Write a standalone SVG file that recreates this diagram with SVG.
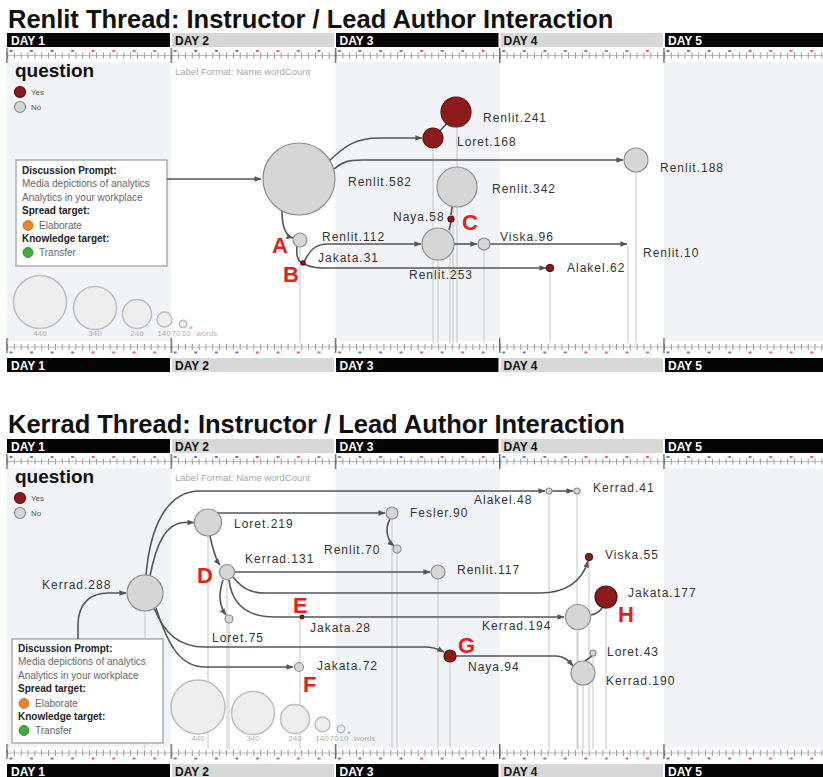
<svg xmlns="http://www.w3.org/2000/svg" width="823" height="777" viewBox="0 0 823 777">
<style>
text{font-family:"Liberation Sans",Arial,sans-serif}
.title{font-size:25.5px;font-weight:bold;fill:#111}
.day{font-size:12px;font-weight:bold}
.dw{fill:#fff}
.dk{fill:#111}
.blk{fill:#050505}
.gry{fill:#d8d8d8}
.shade{fill:#f1f3f6}
.lbl{font-size:12px;letter-spacing:1px;fill:#333}
.let{font-size:22px;font-weight:bold;fill:#e3211c}
.g{fill:#d6d6d6;stroke:#8c8c8c;stroke-width:1.2}
.r{fill:#8c1a1a;stroke:#5a0e0e;stroke-width:1.2}
.c{fill:none;stroke:#555;stroke-width:1.6}
.ca{marker-end:url(#ah)}
.v{fill:none;stroke:#c6c6c6;stroke-width:1}
.q{font-size:19px;font-weight:bold;fill:#111}
.yn{font-size:8px;fill:#555}
.fmt{font-size:9.5px;fill:#a8a8a8}
.bx{fill:#fff;stroke:#9a9a9a;stroke-width:1.2}
.bh{font-size:10px;font-weight:bold;fill:#222}
.bt{font-size:10px;fill:#666}
.sz{fill:#eeeeee;stroke:#bdbdbd;stroke-width:1.5}
.szt{font-size:8px;fill:#b0b0b0;text-anchor:middle}
.szw{font-size:8px;fill:#b0b0b0}
</style>
<defs>
<marker id="ah" viewBox="0 0 8 8" refX="7.5" refY="4" markerWidth="7" markerHeight="7" markerUnits="userSpaceOnUse" orient="auto"><path d="M0,0.8 L8,4 L0,7.2 z" fill="#555"/></marker>
<pattern id="pTick" patternUnits="userSpaceOnUse" x="7" y="0" width="6.84375" height="20"><rect x="0" y="0" width="0.9" height="20" fill="#8a8a8a"/></pattern>
<pattern id="pCap" patternUnits="userSpaceOnUse" x="7" y="0" width="164.25" height="20">
<rect x="2.5" y="0" width="3" height="20" fill="#6a78c0"/>
<rect x="23" y="0" width="3" height="20" fill="#6a78c0"/>
<rect x="43.6" y="0" width="3" height="20" fill="#6a78c0"/>
<rect x="64.1" y="0" width="3" height="20" fill="#6a78c0"/>
<rect x="84.6" y="0" width="3" height="20" fill="#e06464"/>
<rect x="105.2" y="0" width="3" height="20" fill="#e06464"/>
<rect x="125.7" y="0" width="3" height="20" fill="#e06464"/>
<rect x="146.2" y="0" width="3" height="20" fill="#e06464"/>
</pattern>
<pattern id="pMaj" patternUnits="userSpaceOnUse" x="6.3" y="0" width="164.25" height="20"><rect x="0" y="0" width="1.4" height="20" fill="#666"/></pattern>
<g id="panel">
<rect class="shade" x="7" y="62" width="164.25" height="279"/>
<rect class="shade" x="335.5" y="62" width="164.25" height="279"/>
<rect class="shade" x="664" y="62" width="159" height="279"/>
<rect class="blk" x="7" y="33" width="163" height="14"/>
<rect class="gry" x="172" y="33" width="162" height="14"/>
<rect class="blk" x="336" y="33" width="162.5" height="14"/>
<rect class="gry" x="500.5" y="33" width="162.5" height="14"/>
<rect class="blk" x="665" y="33" width="158" height="14"/>
<text class="day dw" x="11" y="45">DAY 1</text>
<text class="day dk" x="175" y="45">DAY 2</text>
<text class="day dw" x="339.5" y="45">DAY 3</text>
<text class="day dk" x="503.5" y="45">DAY 4</text>
<text class="day dw" x="668" y="45">DAY 5</text>
<rect x="7" y="50" width="816" height="2" fill="url(#pCap)"/>
<rect x="7" y="52.5" width="816" height="6" fill="url(#pTick)"/>
<line x1="7" y1="55.5" x2="823" y2="55.5" stroke="#aaa" stroke-width="0.8"/>
<rect x="6" y="48" width="817" height="15" fill="url(#pMaj)"/>
<rect x="7" y="344" width="816" height="6" fill="url(#pTick)"/>
<line x1="7" y1="347" x2="823" y2="347" stroke="#aaa" stroke-width="0.8"/>
<rect x="7" y="351.5" width="816" height="2" fill="url(#pCap)"/>
<rect x="6" y="338" width="817" height="15" fill="url(#pMaj)"/>
<rect class="blk" x="7" y="358" width="163" height="14"/>
<rect class="gry" x="172" y="358" width="162" height="14"/>
<rect class="blk" x="336" y="358" width="162.5" height="14"/>
<rect class="gry" x="500.5" y="358" width="162.5" height="14"/>
<rect class="blk" x="665" y="358" width="158" height="14"/>
<text class="day dw" x="11" y="370">DAY 1</text>
<text class="day dk" x="175" y="370">DAY 2</text>
<text class="day dw" x="339.5" y="370">DAY 3</text>
<text class="day dk" x="503.5" y="370">DAY 4</text>
<text class="day dw" x="668" y="370">DAY 5</text>
<text class="q" x="15" y="77">question</text>
<circle class="r" cx="20" cy="92" r="5.5"/>
<text class="yn" x="31" y="95">Yes</text>
<circle class="g" cx="20" cy="107" r="5.5"/>
<text class="yn" x="31" y="110">No</text>
<text class="fmt" x="175" y="75">Label Format: Name wordCount</text>
</g>
</defs>

<use href="#panel"/>
<use href="#panel" y="406"/>

<text class="title" x="8" y="28">Renlit Thread: Instructor / Lead Author Interaction</text>
<text class="title" x="8" y="433">Kerrad Thread: Instructor / Lead Author Interaction</text>

<g id="droplines">
<path class="v" d="M300,247V343 M433,149V343 M438,260V343 M450,222V343 M453,207V343 M457,127V343 M484,250V343 M550,272V343 M628,246V343 M636,172V343"/>
<path class="v" d="M145,611V749 M208,536V749 M227,580V749 M229,623V749 M300,617V749 M392,519V749 M397,553V749 M438,579V749 M450,662V749 M549,494V749 M577,494V749 M578,630V749 M583,685V749 M589,560V749 M593,656V749 M606,608V749"/>
</g>

<g id="legend-top">
<circle class="sz" cx="40" cy="302" r="26.5"/>
<circle class="sz" cx="95" cy="308" r="21.5"/>
<circle class="sz" cx="137" cy="314" r="14.5"/>
<circle class="sz" cx="164.5" cy="319.5" r="7.5"/>
<circle class="sz" cx="183" cy="324" r="3.8"/>
<circle class="sz" cx="191" cy="327.5" r="0.8"/>
<text class="szt" x="40" y="336">440</text>
<text class="szt" x="95" y="336">340</text>
<text class="szt" x="137" y="336">240</text>
<text class="szt" x="164" y="336">140</text>
<text class="szt" x="176" y="336">70</text>
<text class="szt" x="186" y="336">10</text>
<text class="szw" x="196" y="336">words</text>
</g>
<g id="legend-bottom">
<circle class="sz" cx="198" cy="707" r="27"/>
<circle class="sz" cx="253" cy="713" r="21.5"/>
<circle class="sz" cx="295" cy="719" r="14.5"/>
<circle class="sz" cx="322.5" cy="724.5" r="7.5"/>
<circle class="sz" cx="341" cy="729" r="3.8"/>
<circle class="sz" cx="349" cy="732.5" r="0.8"/>
<text class="szt" x="198" y="741">440</text>
<text class="szt" x="253" y="741">340</text>
<text class="szt" x="295" y="741">240</text>
<text class="szt" x="322" y="741">140</text>
<text class="szt" x="334" y="741">70</text>
<text class="szt" x="344" y="741">10</text>
<text class="szw" x="354" y="741">words</text>
</g>

<g id="prompt-top">
<rect class="bx" x="16" y="160" width="151" height="106"/>
<text class="bh" x="22" y="174">Discussion Prompt:</text>
<text class="bt" x="22" y="187">Media depictions of analytics</text>
<text class="bt" x="22" y="201">Analytics in your workplace</text>
<text class="bh" x="22" y="214">Spread target:</text>
<circle cx="28" cy="225.5" r="5" fill="#e8852a" stroke="#b8651a" stroke-width="0.8"/>
<text class="bt" x="39" y="229">Elaborate</text>
<text class="bh" x="22" y="242">Knowledge target:</text>
<circle cx="28" cy="252.5" r="5" fill="#3fae3f" stroke="#2a7a2a" stroke-width="0.8"/>
<text class="bt" x="39" y="256">Transfer</text>
</g>
<g id="prompt-bottom">
<rect class="bx" x="12" y="639" width="151" height="104"/>
<text class="bh" x="18" y="652">Discussion Prompt:</text>
<text class="bt" x="18" y="665">Media depictions of analytics</text>
<text class="bt" x="18" y="679">Analytics in your workplace</text>
<text class="bh" x="18" y="692">Spread target:</text>
<circle cx="24" cy="703.5" r="5" fill="#e8852a" stroke="#b8651a" stroke-width="0.8"/>
<text class="bt" x="35" y="707">Elaborate</text>
<text class="bh" x="18" y="720">Knowledge target:</text>
<circle cx="24" cy="730.5" r="5" fill="#3fae3f" stroke="#2a7a2a" stroke-width="0.8"/>
<text class="bt" x="35" y="734">Transfer</text>
</g>

<g id="connectors">
<path class="c ca" d="M167,179 L261,179"/>
<path class="c ca" d="M329,161 C345,146 355,138 380,138 L422,138"/>
<path class="c" d="M440,131 L447,123"/>
<path class="c ca" d="M334,169 C342,162 348,160 362,160 L623,160"/>
<path class="c" d="M452,207 L451,215"/>
<path class="c" d="M451,222 L449,230"/>
<path class="c ca" d="M282,211 C282,228 286,236 293,238"/>
<path class="c" d="M297,246 C296,255 298,261 301,262"/>
<path class="c ca" d="M304,262 C310,250 315,244 328,244 L421,244"/>
<path class="c ca" d="M304,264 C312,268 318,268 330,268 L546,268"/>
<path class="c ca" d="M454,244 L477,244"/>
<path class="c ca" d="M490,244 L627,244"/>

<path class="c ca" d="M78,639 L78,625 C78,602 92,593 108,593 L126,593"/>
<path class="c ca" d="M150,576 C156,545 165,523 185,522.5 L194,522.5"/>
<path class="c ca" d="M146,575 C150,530 165,491 200,491 L545,491"/>
<path class="c ca" d="M552,491 L573,491"/>
<path class="c ca" d="M217,513 L385,513"/>
<path class="c ca" d="M390,519 C384,530 388,541 394,546"/>
<path class="c ca" d="M210,536 C213,550 216,560 220,565"/>
<path class="c ca" d="M234,572 L430,572"/>
<path class="c ca" d="M233,577 C242,588 250,593 265,593 L540,593 C565,593 582,582 588,561"/>
<path class="c ca" d="M229,580 C232,605 248,617 275,617 L564,617"/>
<path class="c" d="M591,615 C597,614 600,611 602,608"/>
<path class="c ca" d="M223,580 C218,595 220,607 226,615"/>
<path class="c ca" d="M154,608 C165,635 180,647 205,647 L425,647 C435,647 440,650 444,652"/>
<path class="c ca" d="M456,656 L556,656 C564,656 568,660 573,666"/>
<path class="c" d="M585,661 L592,656"/>
<path class="c ca" d="M156,608 C168,645 180,667 205,667 L293,667"/>
</g>

<g id="n-renlit582"><circle class="g" cx="299" cy="179" r="36"/><text class="lbl" x="348" y="186">Renlit.582</text></g>
<g id="n-loret168"><circle class="r" cx="433" cy="138" r="10"/><text class="lbl" x="457" y="146">Loret.168</text></g>
<g id="n-renlit241"><circle class="r" cx="456" cy="112" r="15"/><text class="lbl" x="483" y="122">Renlit.241</text></g>
<g id="n-renlit188"><circle class="g" cx="636" cy="160" r="12"/><text class="lbl" x="660" y="172">Renlit.188</text></g>
<g id="n-renlit342"><circle class="g" cx="457" cy="187" r="20"/><text class="lbl" x="492" y="193">Renlit.342</text></g>
<g id="n-naya58"><circle class="r" cx="451" cy="219" r="3"/><text class="lbl" x="393" y="221">Naya.58</text></g>
<g id="n-renlit253"><circle class="g" cx="438" cy="244" r="16"/><text class="lbl" x="409" y="279">Renlit.253</text></g>
<g id="n-renlit112"><circle class="g" cx="300" cy="240" r="7"/><text class="lbl" x="322" y="241">Renlit.112</text></g>
<g id="n-jakata31"><circle class="r" cx="303" cy="263" r="2.2"/><text class="lbl" x="318" y="262">Jakata.31</text></g>
<g id="n-viska96"><circle class="g" cx="484" cy="244" r="6"/><text class="lbl" x="500" y="241">Viska.96</text></g>
<g id="n-renlit10"><text class="lbl" x="643" y="257">Renlit.10</text></g>
<g id="n-alakel62"><circle class="r" cx="550" cy="268" r="3.5"/><text class="lbl" x="567" y="272">Alakel.62</text></g>

<g id="n-kerrad288"><circle class="g" cx="145" cy="593" r="18"/><text class="lbl" x="42" y="589">Kerrad.288</text></g>
<g id="n-loret219"><circle class="g" cx="208" cy="522.5" r="13.5"/><text class="lbl" x="234" y="528">Loret.219</text></g>
<g id="n-alakel48"><circle class="g" cx="549" cy="491" r="3"/><text class="lbl" x="474" y="504">Alakel.48</text></g>
<g id="n-kerrad41"><circle class="g" cx="577" cy="491" r="3"/><text class="lbl" x="593" y="492">Kerrad.41</text></g>
<g id="n-fesler90"><circle class="g" cx="392" cy="513" r="6"/><text class="lbl" x="410" y="517">Fesler.90</text></g>
<g id="n-renlit70"><circle class="g" cx="397" cy="549" r="4"/><text class="lbl" x="324" y="554">Renlit.70</text></g>
<g id="n-kerrad131"><circle class="g" cx="227" cy="572" r="7.5"/><text class="lbl" x="245" y="563">Kerrad.131</text></g>
<g id="n-renlit117"><circle class="g" cx="438" cy="572" r="7"/><text class="lbl" x="457" y="574">Renlit.117</text></g>
<g id="n-viska55"><circle class="r" cx="589" cy="557" r="3.5"/><text class="lbl" x="605" y="559">Viska.55</text></g>
<g id="n-jakata28"><circle class="r" cx="302" cy="617" r="1.8"/><text class="lbl" x="310" y="632">Jakata.28</text></g>
<g id="n-kerrad194"><circle class="g" cx="578" cy="617" r="12.5"/><text class="lbl" x="482" y="630">Kerrad.194</text></g>
<g id="n-jakata177"><circle class="r" cx="606" cy="597" r="11"/><text class="lbl" x="628" y="597">Jakata.177</text></g>
<g id="n-loret75"><circle class="g" cx="229" cy="619" r="4"/><text class="lbl" x="212" y="642">Loret.75</text></g>
<g id="n-naya94"><circle class="r" cx="450" cy="656" r="6"/><text class="lbl" x="468" y="671">Naya.94</text></g>
<g id="n-loret43"><circle class="g" cx="593" cy="653" r="3"/><text class="lbl" x="607" y="656">Loret.43</text></g>
<g id="n-kerrad190"><circle class="g" cx="583" cy="673" r="12"/><text class="lbl" x="606" y="685">Kerrad.190</text></g>
<g id="n-jakata72"><circle class="g" cx="299" cy="667" r="4.5"/><text class="lbl" x="317" y="670">Jakata.72</text></g>

<g id="annotations">
<text class="let" x="272" y="253">A</text>
<text class="let" x="283" y="282">B</text>
<text class="let" x="462" y="230">C</text>
<text class="let" x="197" y="583">D</text>
<text class="let" x="293" y="613">E</text>
<text class="let" x="303" y="692">F</text>
<text class="let" x="458" y="653">G</text>
<text class="let" x="618" y="622">H</text>
</g>
</svg>
